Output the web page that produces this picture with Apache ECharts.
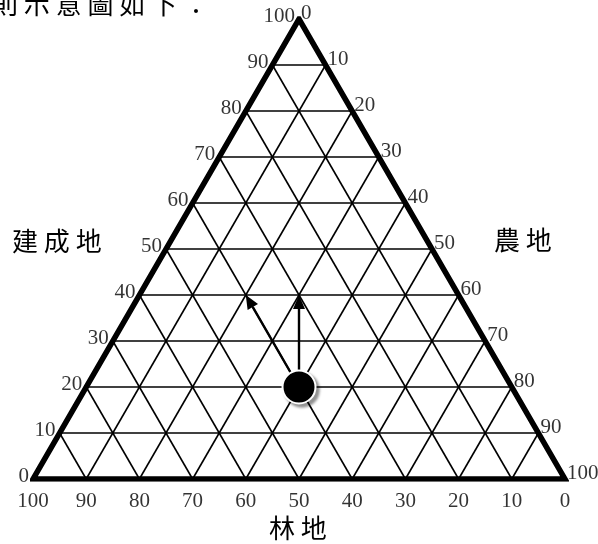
<!DOCTYPE html>
<html>
<head>
<meta charset="utf-8">
<script src="https://cdn.jsdelivr.net/npm/echarts@6/dist/echarts.min.js"></script>
<style>
  html, body { margin: 0; padding: 0; background: #fff; }
  #chart { width: 598px; height: 544px; }
</style>
</head>
<body>
<div id="chart"></div>
<script>
    "use strict";
    // ternary axes: 建成地 (left side), 農地 (right side), 林地 (bottom)
    var tickValues = [0, 10, 20, 30, 40, 50, 60, 70, 80, 90, 100];
    var gridSteps = [10, 20, 30, 40, 50, 60, 70, 80, 90];
    // the black dot: 建成地 20, 農地 40, 林地 40
    var pointBuilt = 20, pointFarm = 40;
    // arrows go from the dot to these points
    var arrowBuilt = [40, 40];
    var arrowFarm = [30, 20];

    var H = Math.sqrt(3) / 2;
    var toXY = function (built, farm) {
        return [farm + built / 2, built * H];
    };

    var gridLines = [];
    gridSteps.forEach(function (k) {
        // 建成地 = k
        gridLines.push({coords: [toXY(k, 0), toXY(k, 100 - k)]});
        // 農地 = k
        gridLines.push({coords: [toXY(0, k), toXY(100 - k, k)]});
        // 林地 = k
        gridLines.push({coords: [toXY(0, 100 - k), toXY(100 - k, 0)]});
    });
    var outline = [toXY(0, 0), toXY(0, 100), toXY(100, 0), toXY(0, 0), toXY(0, 100)];

    var numFont = {fontFamily: "Liberation Serif", fontSize: 21, color: "#000"};
    var leftLabels = tickValues.map(function (v) {
        return {value: toXY(v, 0), name: String(v)};
    });
    var rightLabels = tickValues.map(function (v) {
        return {value: toXY(100 - v, v), name: String(v)};
    });
    var bottomLabels = tickValues.map(function (v) {
        return {value: toXY(0, 100 - v), name: String(v)};
    });
    var arrows = arrowBuilt.map(function (b, i) {
        return toXY(pointBuilt, pointFarm).concat(toXY(b, arrowFarm[i]));
    });

    var labelSeries = function (data, position, distance, offset) {
        return {
            type: "scatter",
            symbolSize: 0,
            silent: true,
            z: 6,
            data: data,
            label: Object.assign({
                show: true,
                position: position,
                distance: distance,
                offset: offset,
                formatter: function (p) { return p.name; }
            }, numFont)
        };
    };

    var cjk = "26px 'Noto Sans CJK TC'";
    var chart = echarts.init(document.getElementById("chart"), null, {renderer: "canvas"});
    chart.setOption({
        animation: false,
        backgroundColor: "#fff",
        grid: {left: 33, right: 33, top: 19, bottom: 65},
        xAxis: {type: "value", min: 0, max: 100, show: false},
        yAxis: {type: "value", min: 0, max: 100 * H, show: false},
        graphic: [
            {type: "text", left: -8, top: -9, style: {text: "則 示 意 圖 如 下 ：", font: cjk, fill: "#000"}},
            {type: "text", left: 12, top: 228, style: {text: "建 成 地", font: cjk, fill: "#000"}},
            {type: "text", left: 494, top: 227, style: {text: "農 地", font: cjk, fill: "#000"}},
            {type: "text", left: 269, top: 515, style: {text: "林 地", font: cjk, fill: "#000"}}
        ],
        series: [
            {
                type: "lines",
                coordinateSystem: "cartesian2d",
                polyline: false,
                silent: true,
                z: 1,
                lineStyle: {color: "#000", width: 1.6, opacity: 1},
                data: gridLines
            },
            {
                type: "line",
                data: outline,
                symbol: "none",
                silent: true,
                z: 2,
                lineStyle: {color: "#000", width: 5.5, join: "miter", miterLimit: 10}
            },
            {
                type: "custom",
                z: 3,
                silent: true,
                data: arrows,
                renderItem: function (params, api) {
                    var p0 = api.coord([api.value(0), api.value(1)]);
                    var p1 = api.coord([api.value(2), api.value(3)]);
                    var a = Math.atan2(p1[1] - p0[1], p1[0] - p0[0]);
                    var len = 14, w = 12;
                    var bx = p1[0] - len * Math.cos(a), by = p1[1] - len * Math.sin(a);
                    var px = -Math.sin(a) * w / 2, py = Math.cos(a) * w / 2;
                    return {
                        type: "group",
                        children: [
                            {type: "line", shape: {x1: p0[0], y1: p0[1], x2: bx, y2: by},
                                style: {stroke: "#000", lineWidth: 2.4}},
                            {type: "polygon", shape: {points: [p1, [bx + px, by + py], [bx - px, by - py]]},
                                style: {fill: "#000"}}
                        ]
                    };
                }
            },
            {
                type: "scatter",
                z: 5,
                silent: true,
                symbolSize: 33,
                data: [toXY(pointBuilt, pointFarm)],
                itemStyle: {
                    color: "#000",
                    borderColor: "#fff",
                    borderWidth: 2,
                    shadowColor: "rgba(0,0,0,0.4)",
                    shadowBlur: 3,
                    shadowOffsetX: 3,
                    shadowOffsetY: 3,
                    opacity: 1
                }
            },
            labelSeries(leftLabels, "left", 4, [0, -3]),
            labelSeries(rightLabels, "right", 2, [0, -6]),
            labelSeries(bottomLabels, "bottom", 12, [0, 0])
        ]
    });
</script>
</body>
</html>
